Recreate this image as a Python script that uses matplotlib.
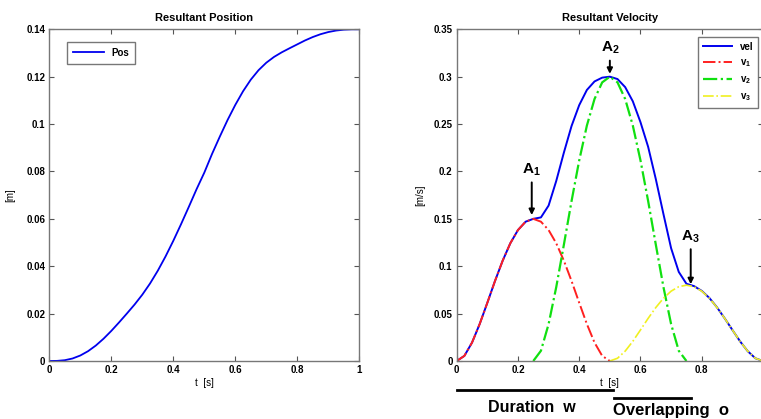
import matplotlib
matplotlib.use("Agg")
import matplotlib.pyplot as plt
import matplotlib.transforms as mtransforms

plt.rcParams['font.family'] = ['Liberation Sans', 'DejaVu Sans']
plt.rcParams['font.weight'] = 'bold'
plt.rcParams['mathtext.fontset'] = 'custom'
plt.rcParams['mathtext.rm'] = 'Liberation Sans:bold'
plt.rcParams['mathtext.bf'] = 'Liberation Sans:bold'
plt.rcParams['mathtext.default'] = 'bf'

# time samples (s), step 0.025
t = [i * 0.025 for i in range(41)]

# resultant position [m]
pos = [0.0, 0.00005, 0.00034, 0.00106, 0.00232, 0.00414, 0.00652, 0.00941,
       0.01270, 0.01628, 0.02000, 0.02382, 0.02799, 0.03272, 0.03811, 0.04414,
       0.05073, 0.05775, 0.06505, 0.07250, 0.07950, 0.08740, 0.09470, 0.10170,
       0.10810, 0.11385, 0.11875, 0.12275, 0.12590, 0.12835, 0.13030, 0.13200,
       0.13365, 0.13530, 0.13674, 0.13793, 0.13884, 0.13947, 0.13984, 0.13998,
       0.14000]

# resultant velocity [m/s]
vel = [0.0, 0.0054, 0.0194, 0.0390, 0.0614, 0.0844, 0.1058, 0.1242, 0.1382,
       0.1470, 0.1500, 0.1515, 0.1640, 0.1900, 0.2200, 0.2480, 0.2700, 0.2860,
       0.2950, 0.2990, 0.3000, 0.2975, 0.2890, 0.2740, 0.2520, 0.2260, 0.1920,
       0.1550, 0.1190, 0.0940, 0.0815, 0.0790, 0.0740, 0.0665, 0.0565, 0.0450,
       0.0328, 0.0208, 0.0104, 0.0029, 0.0]

# component velocities
t1 = t[0:21]
v1 = [0.0, 0.0054, 0.0194, 0.0390, 0.0614, 0.0844, 0.1058, 0.1242, 0.1382,
      0.1470, 0.1500, 0.1470, 0.1382, 0.1242, 0.1058, 0.0844, 0.0614, 0.0390,
      0.0194, 0.0054, 0.0]
t2 = t[10:31]
v2 = [0.0, 0.0108, 0.0389, 0.0780, 0.1229, 0.1688, 0.2117, 0.2484, 0.2765,
      0.2940, 0.3000, 0.2940, 0.2765, 0.2484, 0.2117, 0.1688, 0.1229, 0.0780,
      0.0389, 0.0108, 0.0]
t3 = t[20:41]
v3 = [0.0, 0.0029, 0.0104, 0.0208, 0.0328, 0.0450, 0.0564, 0.0662, 0.0737,
      0.0784, 0.0800, 0.0784, 0.0737, 0.0662, 0.0564, 0.0450, 0.0328, 0.0208,
      0.0104, 0.0029, 0.0]

# peak labels: (text, x, text y, arrow tip y)
peaks = [("A$_1$", 0.245, 0.2015, 0.154),
         ("A$_2$", 0.50, 0.330, 0.303),
         ("A$_3$", 0.764, 0.131, 0.081)]

# spans under the velocity plot
duration_span = (0.0, 0.51)
overlap_span = (0.515, 0.765)

W, H = 761, 419
fig = plt.figure(figsize=(W / 100, H / 100), dpi=100)
fig.patch.set_facecolor('white')

ax1 = fig.add_axes([49.3 / W, 1 - 361 / H, 310 / W, 331.7 / H])
ax2 = fig.add_axes([456.7 / W, 1 - 361 / H, 306.3 / W, 331.7 / H])

blue = '#0000ee'
for ax in (ax1, ax2):
    ax.tick_params(direction='in', length=3.5, width=0.8, top=True, right=True,
                   labelsize=7, pad=3, color='#555555')
    for sp in ax.spines.values():
        sp.set_color('#777777')
        sp.set_linewidth(1.0)

# left: position
ax1.plot(t, pos, color=blue, lw=1.3, label='Pos')
ax1.set_xlim(0, 1)
ax1.set_ylim(0, 0.14)
ax1.set_xticks([0, 0.2, 0.4, 0.6, 0.8, 1])
ax1.set_xticklabels(['0', '0.2', '0.4', '0.6', '0.8', '1'])
ax1.set_yticks([0, 0.02, 0.04, 0.06, 0.08, 0.1, 0.12, 0.14])
ax1.set_yticklabels(['0', '0.02', '0.04', '0.06', '0.08', '0.1', '0.12', '0.14'])
ax1.set_title('Resultant Position', fontsize=8, fontweight='bold', pad=6)
ax1.set_xlabel('t  [s]', fontsize=7, labelpad=2)
ax1.set_ylabel('[m]', fontsize=7, labelpad=8)
ax1.legend(loc='upper left', bbox_to_anchor=(67 / W, 1 - 42 / H),
           bbox_transform=fig.transFigure, fontsize=7, frameon=True,
           fancybox=False, edgecolor='#555555', handlelength=3.2,
           borderpad=0.6, borderaxespad=0)

# right: velocity
ax2.plot(t, vel, color=blue, lw=1.4, label='vel')
ax2.plot(t1, v1, color='#ff2020', lw=1.4, ls='-.', label='v$_1$')
ax2.plot(t2, v2, color='#10e010', lw=1.6, ls='-.', label='v$_2$')
ax2.plot(t3, v3, color='#f0f020', lw=1.2, ls='-.', label='v$_3$')
ax2.set_xlim(0, 1)
ax2.set_ylim(0, 0.35)
ax2.set_xticks([0, 0.2, 0.4, 0.6, 0.8, 1])
ax2.set_xticklabels(['0', '0.2', '0.4', '0.6', '0.8', ''])
ax2.set_yticks([0, 0.05, 0.1, 0.15, 0.2, 0.25, 0.3, 0.35])
ax2.set_yticklabels(['0', '0.05', '0.1', '0.15', '0.2', '0.25', '0.3', '0.35'])
ax2.set_title('Resultant Velocity', fontsize=8, fontweight='bold', pad=6)
ax2.set_xlabel('t  [s]', fontsize=7, labelpad=2)
ax2.set_ylabel('[m/s]', fontsize=7, labelpad=6)
ax2.legend(loc='upper right', bbox_to_anchor=(758 / W, 1 - 37 / H),
           bbox_transform=fig.transFigure, fontsize=7, frameon=True,
           fancybox=False, edgecolor='#555555', handlelength=3.0,
           borderpad=0.5, labelspacing=0.55, borderaxespad=0)

for label, x, ty, tip in peaks:
    ax2.annotate(label, xy=(x, tip), xytext=(x, ty), ha='center', va='center',
                 fontsize=11, fontweight='bold',
                 arrowprops=dict(arrowstyle='-|>', color='k', lw=1.4,
                                 mutation_scale=8, shrinkA=1, shrinkB=0))

# duration / overlapping bars below the axis
trans = mtransforms.blended_transform_factory(ax2.transData, fig.transFigure)
ax2.plot(duration_span, [1 - 390 / H] * 2, color='k', lw=2, transform=trans,
         clip_on=False)
ax2.plot(overlap_span, [1 - 398 / H] * 2, color='k', lw=2, transform=trans,
         clip_on=False)
ax2.text(sum(duration_span) / 2 - 0.01, 1 - 407 / H, 'Duration  w',
         transform=trans, ha='center', va='center', fontsize=11.5,
         fontweight='bold')
ax2.text(overlap_span[0] - 0.005, 1 - 410 / H, 'Overlapping  o',
         transform=trans, ha='left', va='center', fontsize=12,
         fontweight='bold')

fig.savefig('out.png', dpi=100)
